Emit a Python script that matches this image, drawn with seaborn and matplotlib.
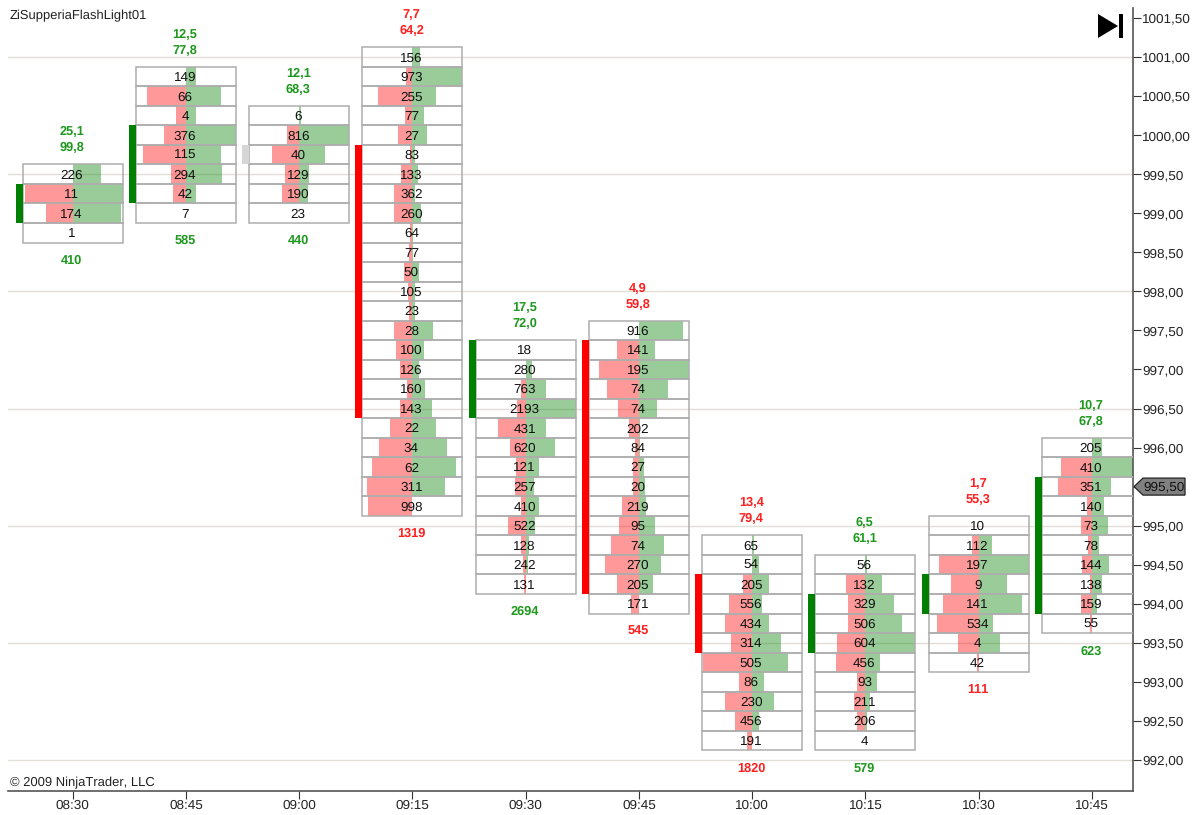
# coding:utf-8
# 08:30-10:45 footprint chart, every bar is a stack of price rows
import pandas as pd
import matplotlib.pyplot as plt
import matplotlib.transforms as mtrans
from matplotlib.patches import Polygon
import seaborn as sns

W, H = 1197, 815

# bar start in minutes after 08:30, and the price of the top row
minutes = [0, 15, 30, 45, 60, 75, 90, 105, 120, 135]
time_labels = ['08:30', '08:45', '09:00', '09:15', '09:30', '09:45', '10:00', '10:15', '10:30', '10:45']
top_price = [999.5, 1000.75, 1000.25, 1001.0, 997.25, 997.5, 994.75, 994.5, 995.0, 996.0]

# numbers printed in the rows
row_text = [
    [226, 11, 174, 1],
    [149, 66, 4, 376, 115, 294, 42, 7],
    [6, 816, 40, 129, 190, 23],
    [156, 973, 255, 77, 27, 83, 133, 362, 260, 64, 77, 50, 105, 23, 28, 100, 126, 160, 143, 22, 34, 62, 311, 998],
    [18, 280, 763, 2193, 431, 620, 121, 257, 410, 522, 128, 242, 131],
    [916, 141, 195, 74, 74, 202, 84, 27, 20, 219, 95, 74, 270, 205, 171],
    [65, 54, 205, 556, 434, 314, 505, 86, 230, 456, 191],
    [56, 132, 329, 506, 604, 456, 93, 211, 206, 4],
    [10, 112, 197, 9, 141, 534, 4, 42],
    [205, 410, 351, 140, 73, 78, 144, 138, 159, 55],
]
# pink part to the left, green part to the right, % of half the bar
pink = [
    [0, 95, 54, 0],
    [0, 78, 20, 44, 85, 29, 25, 0],
    [0, 25, 54, 29, 35, 0],
    [0, 12, 69, 15, 29, 5, 22, 37, 37, 5, 7, 17, 9, 7, 37, 32, 25, 10, 25, 44, 66, 81, 91, 88],
    [0, 0, 10, 17, 56, 32, 20, 22, 10, 35, 10, 6, 3],
    [0, 43, 80, 63, 41, 19, 7, 12, 12, 34, 39, 55, 67, 43, 15],
    [0, 1, 19, 47, 54, 42, 99, 27, 54, 35, 10],
    [0, 39, 35, 35, 56, 59, 17, 22, 17, 0],
    [0, 13, 79, 56, 71, 83, 42, 3],
    [0, 61, 67, 9, 21, 7, 19, 4, 21, 4],
]
green = [
    [56, 100, 97, 0],
    [21, 70, 21, 100, 70, 73, 21, 0],
    [3, 100, 51, 19, 17, 0],
    [15, 100, 48, 24, 29, 5, 11, 6, 17, 1, 1, 14, 5, 6, 41, 24, 14, 26, 39, 48, 70, 87, 65, 0],
    [1, 12, 41, 100, 41, 58, 26, 17, 26, 19, 7, 4, 1],
    [88, 32, 100, 59, 37, 3, 3, 11, 13, 15, 32, 51, 44, 29, 0],
    [3, 14, 33, 19, 33, 57, 72, 23, 43, 14, 0],
    [3, 33, 58, 73, 100, 29, 24, 9, 4, 0],
    [1, 26, 100, 57, 87, 29, 43, 0],
    [20, 100, 39, 25, 32, 15, 35, 20, 10, 0],
]

top_line1 = ['25,1', '12,5', '12,1', '7,7', '17,5', '4,9', '13,4', '6,5', '1,7', '10,7']
top_line2 = ['99,8', '77,8', '68,3', '64,2', '72,0', '59,8', '79,4', '61,1', '55,3', '67,8']
bottom_text = ['410', '585', '440', '1319', '2694', '545', '1820', '579', '111', '623']
text_side = ['g', 'g', 'g', 'r', 'g', 'r', 'r', 'g', 'r', 'g']

# first and last row of the thick marker left of each bar
marker_first = [1, 3, 2, 5, 0, 1, 2, 2, 3, 2]
marker_last = [2, 6, 2, 18, 3, 13, 5, 4, 4, 8]
marker_side = ['g', 'g', 'n', 'r', 'g', 'r', 'r', 'g', 'g', 'g']

price_ticks = [1001.5 - 0.5 * i for i in range(20)]
grid_prices = [1001.0, 999.5, 998.0, 996.5, 995.0, 993.5, 992.0]
last_price = 995.5

sns.set_style('white')
plt.rcParams['font.family'] = ['Liberation Sans', 'DejaVu Sans']
plt.rcParams['text.kerning_factor'] = 6
plt.rcParams['text.hinting'] = 'no_hinting'
FS = 9.7

# pixel scale of the original chart
PX_MIN = 113.25 / 15   # px per minute
PX_PRICE = 78.1        # px per price point
X0, Y0 = 72.7, 18.0    # px position of 08:30 and 1001.50
L, R, T, B = 8, 1133, 8, 791
HALF = 50 / PX_MIN

fig = plt.figure(figsize=(W / 100, H / 100), dpi=100)
ax = fig.add_axes([L / W, 1 - B / H, (R - L) / W, (B - T) / H])

for p in grid_prices:
    ax.axhline(p, color='#e2dfd8', lw=1, zorder=0)

TEXT_COL = {'g': '#1f981f', 'r': '#ff2020'}
MARK_COL = {'g': '#008000', 'r': '#ff0000', 'n': '#d6d6d6'}

for i, m in enumerate(minutes):
    n = len(row_text[i])
    prices = [top_price[i] - 0.25 * k for k in range(n)]
    df = pd.DataFrame({'price': prices, 'pink': pink[i], 'green': green[i]})
    df['left_part'] = -df['pink'] / 100 * HALF
    df['right_part'] = df['green'] / 100 * HALF
    df['span'] = 2 * HALF

    common = dict(y='price', orient='y', native_scale=True, errorbar=None,
                  width=1, saturation=1, ax=ax)
    sns.barplot(data=df, x='left_part', left=m, color='red', alpha=0.4, linewidth=0, zorder=2, **common)
    sns.barplot(data=df, x='right_part', left=m, color='green', alpha=0.4, linewidth=0, zorder=2, **common)
    sns.barplot(data=df, x='span', left=m - HALF, color='#adadad', fill=False, linewidth=1.1, zorder=3, **common)

    for p, t in zip(prices, row_text[i]):
        ax.annotate(str(t), (m, p), xytext=(-1, -1), textcoords='offset pixels',
                    ha='center', va='center', fontsize=FS, color='#111111', zorder=5,
                    annotation_clip=False)

    # thick marker on the left of the box
    a, b = marker_first[i], marker_last[i]
    ax.barh((prices[a] + prices[b]) / 2, 7 / PX_MIN, (b - a + 1) * 0.25,
            left=m - HALF - 7 / PX_MIN, color=MARK_COL[marker_side[i]], linewidth=0, zorder=4)

    col = TEXT_COL[text_side[i]]
    upper = prices[0] + 0.125
    lower = prices[-1] - 0.125
    for txt, dy in [(top_line1[i], 32.5), (top_line2[i], 16.5)]:
        ax.annotate(txt, (m, upper), xytext=(-1, dy), textcoords='offset pixels', ha='center',
                    va='center', fontsize=9.2, fontweight='bold', color=col, annotation_clip=False)
    ax.annotate(bottom_text[i], (m, lower), xytext=(-1, -18), textcoords='offset pixels', ha='center',
                va='center', fontsize=9.2, fontweight='bold', color=col, annotation_clip=False)

ax.set_xlim((L - X0) / PX_MIN, (R - X0) / PX_MIN)
ax.set_ylim(1001.5 - (B - Y0) / PX_PRICE, 1001.5 + (Y0 - T) / PX_PRICE)
ax.set_xlabel('')
ax.set_ylabel('')
ax.set_xticks(minutes)
ax.set_xticklabels(time_labels)
ax.set_yticks(price_ticks)
ax.set_yticklabels(['{:.2f}'.format(v).replace('.', ',') for v in price_ticks])
ax.yaxis.tick_right()
ax.tick_params(axis='both', length=5.4, width=0.8, color='#333333', labelsize=FS,
               labelcolor='#222222', pad=1, bottom=True, right=True, left=False)
for s in ['left', 'top']:
    ax.spines[s].set_visible(False)
for s in ['right', 'bottom']:
    ax.spines[s].set_color('#555555')
    ax.spines[s].set_linewidth(1.2)

# pixels measured from the top left of the picture
px = mtrans.Affine2D().scale(1, -1).translate(0, H)
fig.text(10 / W, 1 - 16 / H, 'ZiSupperiaFlashLight01', fontsize=FS - 0.3, color='#222222', va='center')
fig.text(10 / W, 1 - 783 / H, '\u00a9 2009 NinjaTrader, LLC', fontsize=FS - 0.3, color='#222222', va='center')

# jump to end icon
fig.add_artist(Polygon([(1098, 14), (1118, 26), (1098, 38)], closed=True, facecolor='black', edgecolor='none', transform=px))
fig.add_artist(Polygon([(1119, 14), (1122.5, 14), (1122.5, 38), (1119, 38)], closed=True, facecolor='black', edgecolor='none', transform=px))

# last price flag
yp = Y0 + (1001.5 - last_price) * PX_PRICE
fig.add_artist(Polygon([(1134, yp), (1143, yp - 8.5), (1185, yp - 8.5), (1185, yp + 8.5), (1143, yp + 8.5)],
                       closed=True, facecolor='#808080', edgecolor='#222222', linewidth=0.9, transform=px))
fig.text(1164 / W, 1 - (yp + 0.5) / H, '995,50', fontsize=FS, color='#111111', ha='center', va='center')

fig.savefig('out.png', dpi=100)
plt.close(fig)
